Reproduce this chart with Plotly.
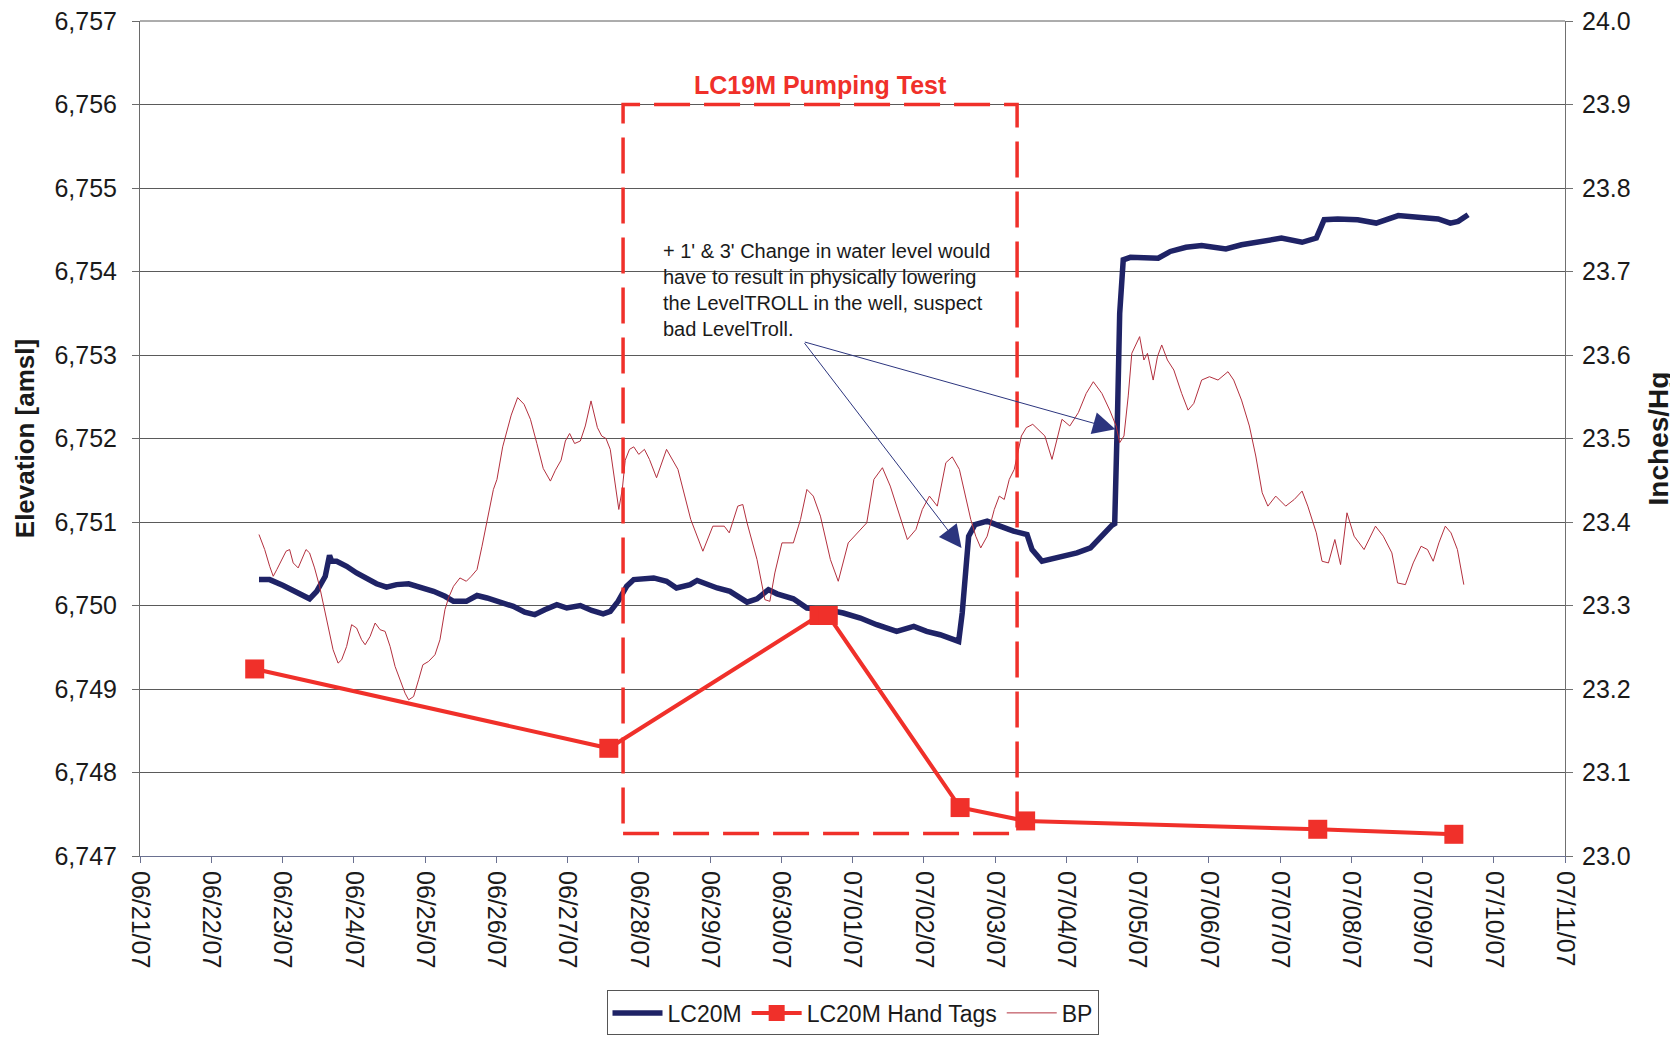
"""
LC20M water level vs. barometric pressure during the LC19M pumping test.

Left axis  = elevation (ft amsl) for the transducer record and hand tags
Right axis = barometric pressure (inches Hg)
"""

import pandas as pd
import plotly.graph_objects as go

START = pd.Timestamp('2007-06-21')

NAVY     = '#1f2366'
TAG_RED  = '#f0302a'
BP_RED   = '#b3303e'
GRID_COL = '#5a5a5a'
FONT     = 'Liberation Sans, Arial, sans-serif'

# LC20M transducer record (days after 06/21/07, ft amsl)
lc20m_day = [1.67, 1.82, 2.01, 2.20, 2.38, 2.48, 2.60, 2.66, 2.69, 2.76, 2.90, 3.04,
             3.18, 3.32, 3.46, 3.60, 3.77, 3.93, 4.12, 4.28, 4.40, 4.58, 4.73, 4.87,
             5.05, 5.24, 5.40, 5.54, 5.68, 5.85, 5.99, 6.18, 6.34, 6.50, 6.60, 6.71,
             6.83, 6.93, 7.21, 7.39, 7.53, 7.72, 7.82, 8.10, 8.28, 8.52, 8.66, 8.82,
             8.94, 9.17, 9.36, 9.64, 9.87, 10.11, 10.34, 10.62, 10.86, 11.04, 11.23,
             11.49, 11.54, 11.59, 11.63, 11.72, 11.89, 12.07, 12.26, 12.45, 12.52,
             12.66, 12.87, 13.00, 13.15, 13.34, 13.53, 13.64, 13.68, 13.70, 13.72,
             13.75, 13.80, 13.90, 14.29, 14.46, 14.68, 14.90, 15.24, 15.46, 15.74,
             16.02, 16.31, 16.51, 16.62, 16.81, 17.09, 17.35, 17.66, 17.99, 18.22,
             18.39, 18.50, 18.64]
lc20m_elev = [6750.31, 6750.31, 6750.24, 6750.16, 6750.08, 6750.17, 6750.35, 6750.60,
              6750.53, 6750.53, 6750.47, 6750.39, 6750.33, 6750.26, 6750.22, 6750.25,
              6750.26, 6750.22, 6750.17, 6750.11, 6750.05, 6750.05, 6750.12, 6750.09,
              6750.04, 6749.99, 6749.92, 6749.89, 6749.95, 6750.01, 6749.97, 6750.00,
              6749.94, 6749.90, 6749.93, 6750.05, 6750.23, 6750.31, 6750.33, 6750.29,
              6750.21, 6750.25, 6750.30, 6750.21, 6750.17, 6750.04, 6750.08, 6750.19,
              6750.14, 6750.08, 6749.97, 6749.95, 6749.91, 6749.85, 6749.77, 6749.69,
              6749.75, 6749.69, 6749.65, 6749.57, 6749.91, 6750.47, 6750.83, 6750.97,
              6751.01, 6750.95, 6750.89, 6750.85, 6750.67, 6750.53, 6750.57, 6750.61,
              6750.63, 6750.69, 6750.87, 6750.96, 6750.98, 6751.51, 6752.31, 6753.50,
              6754.14, 6754.17, 6754.16, 6754.24, 6754.29, 6754.31, 6754.27, 6754.32,
              6754.36, 6754.40, 6754.35, 6754.40, 6754.62, 6754.63, 6754.62, 6754.58,
              6754.67, 6754.65, 6754.63, 6754.58, 6754.60, 6754.68]

# hand-measured water levels
tag_day  = [1.61, 6.58, 9.53, 9.66, 11.51, 12.43, 16.53, 18.44]
tag_elev = [6749.24, 6748.29, 6749.88, 6749.88, 6747.58, 6747.42, 6747.32, 6747.26]

# barometric pressure (inches Hg)
bp_day = [1.67, 1.75, 1.82, 1.87, 1.92, 1.99, 2.05, 2.10, 2.15, 2.22, 2.27, 2.33, 2.38,
          2.45, 2.52, 2.58, 2.64, 2.71, 2.78, 2.83, 2.90, 2.97, 3.04, 3.11, 3.16, 3.23,
          3.30, 3.37, 3.44, 3.51, 3.58, 3.65, 3.72, 3.77, 3.84, 3.91, 3.97, 4.05, 4.14,
          4.21, 4.28, 4.33, 4.40, 4.49, 4.58, 4.65, 4.73, 4.80, 4.87, 4.91, 4.96, 5.01,
          5.09, 5.21, 5.30, 5.39, 5.48, 5.57, 5.66, 5.76, 5.83, 5.91, 5.97, 6.03, 6.10,
          6.18, 6.25, 6.33, 6.37, 6.42, 6.48, 6.54, 6.60, 6.66, 6.72, 6.77, 6.81, 6.87,
          6.93, 7.00, 7.08, 7.15, 7.25, 7.39, 7.55, 7.73, 7.90, 8.04, 8.20, 8.27, 8.39,
          8.46, 8.52, 8.66, 8.77, 8.84, 8.91, 9.01, 9.17, 9.27, 9.36, 9.45, 9.55, 9.69,
          9.80, 9.94, 10.11, 10.20, 10.30, 10.42, 10.53, 10.65, 10.77, 10.89, 10.98,
          11.08, 11.19, 11.31, 11.40, 11.50, 11.59, 11.66, 11.73, 11.80, 11.89, 11.99,
          12.06, 12.13, 12.20, 12.27, 12.37, 12.44, 12.53, 12.60, 12.70, 12.80, 12.94,
          13.05, 13.17, 13.28, 13.38, 13.50, 13.61, 13.70, 13.75, 13.81, 13.87, 13.92,
          13.98, 14.03, 14.09, 14.14, 14.22, 14.28, 14.34, 14.42, 14.51, 14.62, 14.71,
          14.79, 14.90, 15.01, 15.13, 15.27, 15.35, 15.46, 15.57, 15.66, 15.75, 15.83,
          15.94, 16.08, 16.20, 16.31, 16.39, 16.51, 16.59, 16.68, 16.77, 16.85, 16.94,
          17.04, 17.18, 17.34, 17.45, 17.57, 17.65, 17.76, 17.87, 17.98, 18.07, 18.15,
          18.23, 18.32, 18.40, 18.49, 18.58]
bp_inhg = [23.385, 23.367, 23.347, 23.335, 23.343, 23.355, 23.365, 23.367, 23.351, 23.345,
           23.355, 23.367, 23.363, 23.345, 23.323, 23.299, 23.271, 23.247, 23.231, 23.235,
           23.251, 23.277, 23.273, 23.259, 23.253, 23.263, 23.279, 23.271, 23.269, 23.251,
           23.227, 23.211, 23.195, 23.187, 23.191, 23.211, 23.229, 23.233, 23.241, 23.259,
           23.295, 23.309, 23.323, 23.333, 23.329, 23.335, 23.343, 23.371, 23.399, 23.419,
           23.439, 23.451, 23.490, 23.528, 23.549, 23.541, 23.523, 23.494, 23.464, 23.449,
           23.462, 23.474, 23.497, 23.506, 23.494, 23.497, 23.515, 23.545, 23.532, 23.513,
           23.503, 23.500, 23.487, 23.450, 23.415, 23.440, 23.474, 23.487, 23.490, 23.481,
           23.487, 23.475, 23.453, 23.487, 23.463, 23.403, 23.365, 23.395, 23.395, 23.387,
           23.419, 23.421, 23.399, 23.355, 23.307, 23.305, 23.339, 23.375, 23.375, 23.403,
           23.439, 23.431, 23.407, 23.355, 23.329, 23.375, 23.391, 23.399, 23.451, 23.465,
           23.443, 23.411, 23.379, 23.391, 23.415, 23.431, 23.419, 23.471, 23.478, 23.463,
           23.431, 23.403, 23.383, 23.369, 23.383, 23.415, 23.431, 23.427, 23.451, 23.463,
           23.503, 23.513, 23.517, 23.511, 23.503, 23.475, 23.523, 23.515, 23.531, 23.554,
           23.568, 23.554, 23.534, 23.515, 23.495, 23.503, 23.551, 23.602, 23.614, 23.622,
           23.594, 23.602, 23.570, 23.598, 23.612, 23.594, 23.582, 23.554, 23.534, 23.542,
           23.570, 23.574, 23.570, 23.580, 23.570, 23.546, 23.515, 23.479, 23.435, 23.419,
           23.431, 23.419, 23.427, 23.437, 23.419, 23.387, 23.353, 23.351, 23.379, 23.349,
           23.411, 23.383, 23.367, 23.395, 23.383, 23.363, 23.327, 23.325, 23.351, 23.371,
           23.367, 23.353, 23.375, 23.395, 23.387, 23.367, 23.325]

# pumping test window (days) and box height (ft amsl)
pump_day  = [6.78, 12.31]
pump_elev = [6747.27, 6756.0]

# note + the two points it refers to
note_day, note_elev = 7.31, 6754.40
arrow_tail = (9.31, 6753.16)
arrow_tips = [(11.53, 6750.69), (13.69, 6752.11)]


def to_time(days):
    return START + pd.to_timedelta(pd.Series(days, dtype=float), unit='D')


fig = go.Figure()

fig.add_trace(go.Scatter(
    x=to_time(lc20m_day), y=lc20m_elev, name='LC20M', mode='lines',
    line=dict(color=NAVY, width=5.5),
))
fig.add_trace(go.Scatter(
    x=to_time(tag_day), y=tag_elev, name='LC20M Hand Tags', mode='lines+markers',
    line=dict(color=TAG_RED, width=4),
    marker=dict(symbol='square', size=19, color=TAG_RED),
))
fig.add_trace(go.Scatter(
    x=to_time(bp_day), y=bp_inhg, name='BP', mode='lines', yaxis='y2',
    line=dict(color=BP_RED, width=1),
))

t0, t1 = to_time(pump_day)
fig.add_shape(
    type='rect', xref='x', yref='y', x0=t0, x1=t1, y0=pump_elev[0], y1=pump_elev[1],
    line=dict(color=TAG_RED, width=3.5, dash='36px,14px'), layer='above',
)

# top border of the plot area (grid line at the top of the range)
fig.add_shape(
    type='line', xref='paper', yref='paper', x0=0, x1=1, y0=1, y1=1,
    line=dict(color=GRID_COL, width=1), layer='below',
)

fig.add_annotation(
    x=START + pd.Timedelta(days=(pump_day[0] + pump_day[1]) / 2), y=6756.23,
    text='<b>LC19M Pumping Test</b>', showarrow=False,
    font=dict(family=FONT, size=25, color=TAG_RED),
)

fig.add_annotation(
    x=START + pd.Timedelta(days=note_day), y=note_elev, xanchor='left', yanchor='top',
    text=("+ 1' &amp; 3' Change in water level would<br>"
          "have to result in physically lowering<br>"
          "the LevelTROLL in the well, suspect<br>"
          "bad LevelTroll."),
    showarrow=False, align='left',
    font=dict(family=FONT, size=20, color='#1a1a1a'),
)

tail_t = START + pd.Timedelta(days=arrow_tail[0])
for d, e in arrow_tips:
    fig.add_annotation(
        x=START + pd.Timedelta(days=d), y=e, ax=tail_t, ay=arrow_tail[1],
        axref='x', ayref='y', text='', showarrow=True,
        arrowhead=2, arrowsize=4.5, arrowwidth=1, arrowcolor='#2c357e',
    )

axis_font = dict(family=FONT, size=25, color='#1a1a1a')

# the page body adds an 8px offset, margins below are set against that
fig.update_layout(
    width=1678, height=1039,
    paper_bgcolor='white', plot_bgcolor='white',
    margin=dict(l=132, r=121, t=13, b=191, autoexpand=False),
    showlegend=True,
    font=dict(family=FONT, color='#1a1a1a'),
    xaxis=dict(
        type='date', automargin=False,
        range=[START, START + pd.Timedelta(days=20)],
        dtick=86400000, tick0=START,
        tickformat='%m/%d/%y', tickangle=90,
        tickfont=axis_font, ticklabelstandoff=3, ticklabeloverflow='allow',
        showgrid=False, zeroline=False,
        showline=True, linecolor='#6a7090', linewidth=1,
        ticks='outside', ticklen=6, tickcolor='#6a7090',
    ),
    yaxis=dict(
        range=[6747, 6757], dtick=1, tickformat=',d', automargin=False,
        tickfont=axis_font, ticklabelstandoff=10, ticklabeloverflow='allow',
        title=dict(text='<b>Elevation [amsl]</b>', font=dict(family=FONT, size=26),
                   standoff=12),
        showgrid=True, gridcolor=GRID_COL, gridwidth=1,
        zeroline=False, showline=True, linecolor='#6a6a6a', linewidth=1,
        ticks='outside', ticklen=7, tickcolor='#6a6a6a',
    ),
    yaxis2=dict(
        range=[23.0, 24.0], dtick=0.1, tickformat='.1f', automargin=False,
        overlaying='y', side='right',
        tickfont=axis_font, ticklabelstandoff=4, ticklabeloverflow='allow',
        title=dict(text='<b>Inches/Hg</b>', font=dict(family=FONT, size=28),
                   standoff=18),
        showgrid=False, zeroline=False,
        showline=True, linecolor='#707070', linewidth=1,
        ticks='outside', ticklen=7, tickcolor='#707070',
    ),
    legend=dict(
        orientation='h', x=0.5, xanchor='center', y=-0.161, yanchor='top',
        font=dict(family=FONT, size=23, color='#1a1a1a'),
        bgcolor='white', bordercolor='#555555', borderwidth=1,
        itemwidth=50, tracegroupgap=0,
    ),
)

fig.write_html('out.html')
